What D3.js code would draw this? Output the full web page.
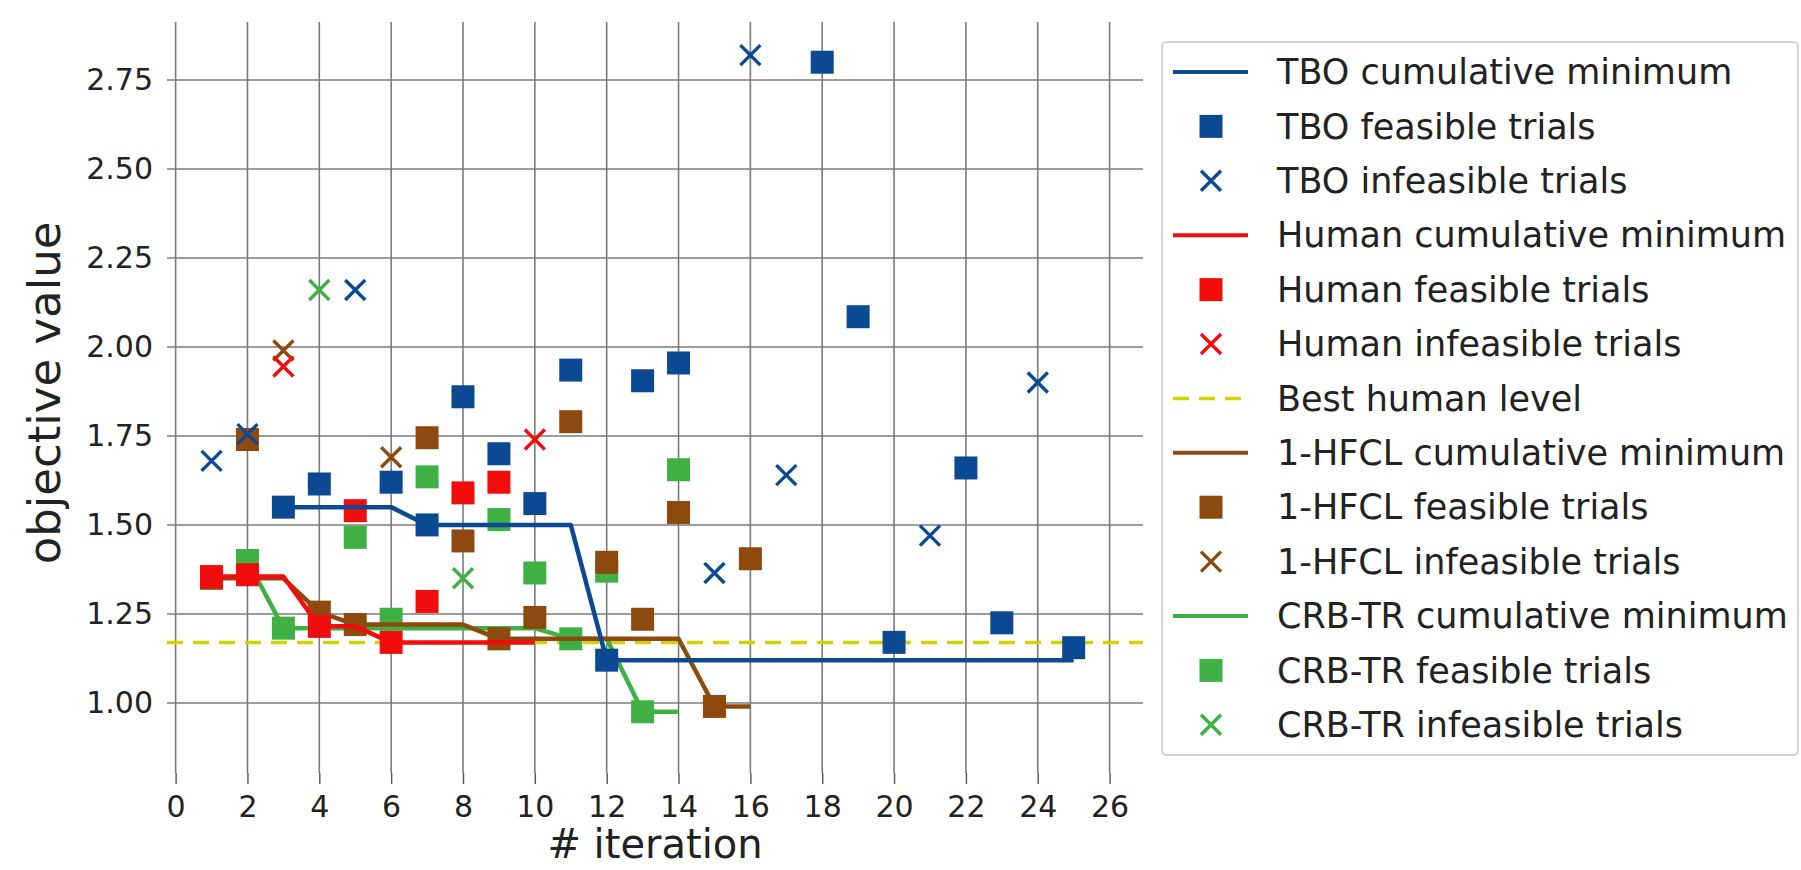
<!DOCTYPE html>
<html>
<head>
<meta charset="utf-8">
<script src="https://cdn.jsdelivr.net/npm/d3@7"></script>
<style>
  body { margin: 0; background: #fff; }
  svg { display: block; font-family: "DejaVu Sans", sans-serif; }
</style>
</head>
<body>
<div class="chart-container1"></div>
<script>
// trials: iteration, objective value, feasible?
const tboIter     = [1, 2, 3, 4, 5, 6, 7, 8, 9, 10, 11, 12, 13, 14, 15, 16, 17, 18, 19, 20, 21, 22, 23, 24, 25];
const tboValue    = [1.68, 1.755, 1.55, 1.615, 2.16, 1.62, 1.50, 1.86, 1.70, 1.56, 1.935, 1.12, 1.905, 1.955, 1.365, 2.82, 1.64, 2.80, 2.085, 1.17, 1.47, 1.66, 1.225, 1.90, 1.155];
const tboFeasible = [0, 0, 1, 1, 0, 1, 1, 1, 1, 1, 1, 1, 1, 1, 0, 0, 0, 1, 1, 1, 0, 1, 1, 0, 1];
const tboCumIter  = [3, 4, 5, 6, 7, 8, 9, 10, 11, 12, 13, 14, 15, 16, 17, 18, 19, 20, 21, 22, 23, 24, 25];
const tboCumMin   = [1.55, 1.55, 1.55, 1.55, 1.50, 1.50, 1.50, 1.50, 1.50, 1.12, 1.12, 1.12, 1.12, 1.12, 1.12, 1.12, 1.12, 1.12, 1.12, 1.12, 1.12, 1.12, 1.12];

const humanIter     = [1, 2, 3, 4, 5, 6, 7, 8, 9, 10];
const humanValue    = [1.355, 1.36, 1.945, 1.215, 1.54, 1.17, 1.285, 1.59, 1.62, 1.74];
const humanFeasible = [1, 1, 0, 1, 1, 1, 1, 1, 1, 0];
const humanCumIter  = [1, 2, 3, 4, 5, 6, 7, 8, 9, 10];
const humanCumMin   = [1.355, 1.355, 1.355, 1.215, 1.215, 1.17, 1.17, 1.17, 1.17, 1.17];

const hfclIter     = [1, 2, 3, 4, 5, 6, 7, 8, 9, 10, 11, 12, 13, 14, 15, 16];
const hfclValue    = [1.35, 1.74, 1.99, 1.255, 1.22, 1.69, 1.745, 1.455, 1.18, 1.24, 1.79, 1.395, 1.235, 1.535, 0.99, 1.405];
const hfclFeasible = [1, 1, 0, 1, 1, 0, 1, 1, 1, 1, 1, 1, 1, 1, 1, 1];
const hfclCumIter  = [1, 2, 3, 4, 5, 6, 7, 8, 9, 10, 11, 12, 13, 14, 15, 16];
const hfclCumMin   = [1.35, 1.35, 1.35, 1.255, 1.22, 1.22, 1.22, 1.22, 1.18, 1.18, 1.18, 1.18, 1.18, 1.18, 0.99, 0.99];

const crbIter     = [2, 3, 4, 5, 6, 7, 8, 9, 10, 11, 12, 13, 14];
const crbValue    = [1.40, 1.21, 2.16, 1.465, 1.235, 1.635, 1.35, 1.515, 1.365, 1.18, 1.37, 0.975, 1.655];
const crbFeasible = [1, 1, 0, 1, 1, 1, 0, 1, 1, 1, 1, 1, 1];
const crbCumIter  = [2, 3, 4, 5, 6, 7, 8, 9, 10, 11, 12, 13, 14];
const crbCumMin   = [1.40, 1.21, 1.21, 1.21, 1.21, 1.21, 1.21, 1.21, 1.21, 1.18, 1.18, 0.975, 0.975];

const bestHumanLevel = 1.17;

const xTicks = [0, 2, 4, 6, 8, 10, 12, 14, 16, 18, 20, 22, 24, 26];
const yTicks = [1.00, 1.25, 1.50, 1.75, 2.00, 2.25, 2.50, 2.75];

const legendLabels = [
  "TBO cumulative minimum", "TBO feasible trials", "TBO infeasible trials",
  "Human cumulative minimum", "Human feasible trials", "Human infeasible trials",
  "Best human level",
  "1-HFCL cumulative minimum", "1-HFCL feasible trials", "1-HFCL infeasible trials",
  "CRB-TR cumulative minimum", "CRB-TR feasible trials", "CRB-TR infeasible trials"
];

const W = 1801, H = 870;
const plot = { left: 167, right: 1143, top: 22, bottom: 773 };

const colors = { tbo: "#0b4a93", human: "#f20d0d", hfcl: "#8e4a0e", crb: "#3fb043", best: "#d2d200" };

const svg = d3.select(".chart-container1").append("svg")
  .attr("width", W)
  .attr("height", H);

const x = d3.scaleLinear().domain([-0.24, 26.93]).range([plot.left, plot.right]);
const y = d3.scaleLinear().domain([0.803, 2.913]).range([plot.bottom, plot.top]);

// grid
svg.append("g")
  .selectAll("line")
  .data(yTicks)
  .join("line")
  .attr("x1", plot.left).attr("x2", plot.right)
  .attr("y1", d => y(d)).attr("y2", d => y(d))
  .attr("stroke", "#9c9c9c")
  .attr("stroke-width", 2);

svg.append("g")
  .selectAll("line")
  .data(xTicks)
  .join("line")
  .attr("x1", d => x(d)).attr("x2", d => x(d))
  .attr("y1", plot.top).attr("y2", plot.bottom)
  .attr("stroke", "#7a7a7a")
  .attr("stroke-width", 1.6);

// axes
const xAxis = svg.append("g")
  .attr("transform", `translate(0,${plot.bottom})`)
  .call(d3.axisBottom(x).tickValues(xTicks).tickSize(11).tickPadding(12));
xAxis.select(".domain").remove();
xAxis.selectAll(".tick line").attr("stroke", "#555").attr("stroke-width", 1.4);
xAxis.selectAll("text").attr("font-size", 30).attr("fill", "#222").attr("font-family", "DejaVu Sans");

const yAxis = svg.append("g")
  .attr("transform", `translate(${plot.left},0)`)
  .call(d3.axisLeft(y).tickValues(yTicks).tickFormat(d3.format(".2f")).tickSize(0).tickPadding(14));
yAxis.select(".domain").remove();
yAxis.selectAll("text").attr("font-size", 30).attr("fill", "#222").attr("font-family", "DejaVu Sans");

svg.append("text")
  .attr("transform", "translate(60,393) rotate(-90)")
  .attr("text-anchor", "middle")
  .attr("font-size", 45)
  .attr("fill", "#222")
  .text("objective value");

svg.append("text")
  .attr("x", (plot.left + plot.right) / 2)
  .attr("y", 858)
  .attr("text-anchor", "middle")
  .attr("font-size", 40)
  .attr("fill", "#222")
  .text("# iteration");

// best human level
svg.append("line")
  .attr("x1", plot.left).attr("x2", plot.right)
  .attr("y1", y(bestHumanLevel)).attr("y2", y(bestHumanLevel))
  .attr("stroke", colors.best)
  .attr("stroke-width", 3.5)
  .attr("stroke-dasharray", "16,10");

const line = d3.line().x(d => x(d[0])).y(d => y(d[1]));
const sq = 23, cross = 10;

function drawSeries(iter, value, feasible, cumIter, cumMin, color) {
  const g = svg.append("g");
  g.append("path")
    .datum(cumIter.map((it, i) => [it, cumMin[i]]))
    .attr("d", line)
    .attr("fill", "none")
    .attr("stroke", color)
    .attr("stroke-width", 4.5)
    .attr("stroke-linejoin", "round");

  const pts = iter.map((it, i) => ({ it: it, v: value[i], ok: feasible[i] }));

  g.selectAll("rect")
    .data(pts.filter(d => d.ok))
    .join("rect")
    .attr("x", d => x(d.it) - sq / 2)
    .attr("y", d => y(d.v) - sq / 2)
    .attr("width", sq).attr("height", sq)
    .attr("fill", color);

  g.selectAll("path.x")
    .data(pts.filter(d => !d.ok))
    .join("path")
    .attr("class", "x")
    .attr("d", d => {
      const cx = x(d.it), cy = y(d.v);
      return `M${cx - cross},${cy - cross}L${cx + cross},${cy + cross}M${cx - cross},${cy + cross}L${cx + cross},${cy - cross}`;
    })
    .attr("stroke", color)
    .attr("stroke-width", 3.4);
}

drawSeries(crbIter, crbValue, crbFeasible, crbCumIter, crbCumMin, colors.crb);
drawSeries(hfclIter, hfclValue, hfclFeasible, hfclCumIter, hfclCumMin, colors.hfcl);
drawSeries(humanIter, humanValue, humanFeasible, humanCumIter, humanCumMin, colors.human);
drawSeries(tboIter, tboValue, tboFeasible, tboCumIter, tboCumMin, colors.tbo);

// legend
const legend = svg.append("g");
legend.append("rect")
  .attr("x", 1162).attr("y", 42)
  .attr("width", 636).attr("height", 713)
  .attr("rx", 5)
  .attr("fill", "#fff")
  .attr("fill-opacity", 0.85)
  .attr("stroke", "#d0d0d0")
  .attr("stroke-width", 2);

const legendKinds = ["line", "square", "cross"];
const legendColors = [colors.tbo, colors.tbo, colors.tbo, colors.human, colors.human, colors.human,
  colors.best, colors.hfcl, colors.hfcl, colors.hfcl, colors.crb, colors.crb, colors.crb];

legendLabels.forEach((label, i) => {
  const cy = 72 + i * 54.4;
  const kind = i === 6 ? "dash" : legendKinds[(i < 6 ? i : i - 7) % 3];
  const c = legendColors[i];
  if (kind === "line" || kind === "dash") {
    legend.append("line")
      .attr("x1", 1173).attr("x2", 1248)
      .attr("y1", cy).attr("y2", cy)
      .attr("stroke", c)
      .attr("stroke-width", kind === "dash" ? 3.5 : 4)
      .attr("stroke-dasharray", kind === "dash" ? "16,10" : null);
  } else if (kind === "square") {
    legend.append("rect")
      .attr("x", 1211 - sq / 2).attr("y", cy - sq / 2)
      .attr("width", sq).attr("height", sq)
      .attr("fill", c);
  } else {
    legend.append("path")
      .attr("d", `M${1211 - cross},${cy - cross}L${1211 + cross},${cy + cross}M${1211 - cross},${cy + cross}L${1211 + cross},${cy - cross}`)
      .attr("stroke", c)
      .attr("stroke-width", 3.4);
  }
  legend.append("text")
    .attr("x", 1277).attr("y", cy)
    .attr("dy", "0.35em")
    .attr("font-size", 35)
    .attr("fill", "#222")
    .text(label);
});
</script>
</body>
</html>
